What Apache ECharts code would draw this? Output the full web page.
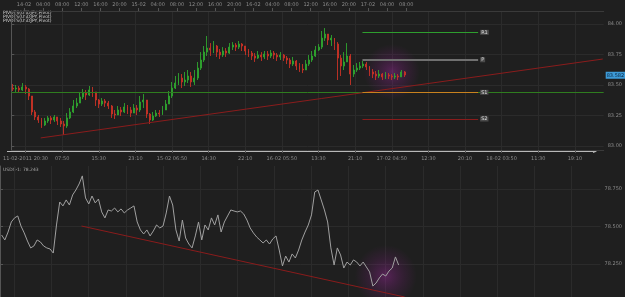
<!DOCTYPE html>
<html>
<head>
<meta charset="utf-8">
<script src="https://cdn.jsdelivr.net/npm/echarts@6/dist/echarts.min.js"></script>
<style>
html,body{margin:0;padding:0;background:#1f1f1f;}
#chart{width:625px;height:297px;}
</style>
</head>
<body>
<div id="chart"></div>
<script>
// bars: x is minutes from the left edge of the chart
var barStart = 20, barStep = 40;
var firstOpen = 83.475;

var closes = [83.467,83.475,83.459,83.484,83.467,83.410,83.279,83.238,83.213,83.172,
  83.205,83.230,83.213,83.238,83.205,83.180,83.164,83.230,83.279,83.328,
  83.352,83.402,83.434,83.418,83.459,83.443,83.377,83.344,83.369,83.352,
  83.328,83.262,83.254,83.295,83.279,83.320,83.295,83.270,83.311,83.295,
  83.361,83.377,83.262,83.213,83.246,83.270,83.262,83.295,83.344,83.410,
  83.475,83.516,83.557,83.525,83.541,83.574,83.525,83.557,83.639,83.705,
  83.770,83.803,83.787,83.820,83.770,83.746,83.779,83.762,83.811,83.828,
  83.811,83.836,83.820,83.779,83.762,83.738,83.721,83.746,83.730,83.754,
  83.738,83.762,83.746,83.730,83.746,83.721,83.705,83.672,83.697,83.656,
  83.631,83.623,83.672,83.705,83.738,83.787,83.811,83.885,83.918,83.869,
  83.885,83.836,83.721,83.656,83.689,83.738,83.590,83.623,83.639,83.656,
  83.672,83.648,83.607,83.590,83.574,83.590,83.566,83.582,83.574,83.566,
  83.574,83.566,83.607,83.582];

var highs = [83.508,83.500,83.492,83.516,83.500,83.475,83.410,83.295,83.254,83.230,
  83.230,83.246,83.246,83.254,83.238,83.230,83.205,83.270,83.311,83.377,
  83.393,83.443,83.467,83.459,83.492,83.484,83.443,83.385,83.393,83.385,
  83.369,83.336,83.295,83.328,83.320,83.352,83.336,83.320,83.344,83.336,
  83.410,83.426,83.377,83.270,83.279,83.295,83.295,83.328,83.377,83.451,
  83.525,83.574,83.598,83.590,83.607,83.623,83.607,83.623,83.689,83.770,
  83.820,83.902,83.844,83.861,83.828,83.795,83.811,83.803,83.844,83.852,
  83.844,83.861,83.844,83.820,83.795,83.779,83.762,83.779,83.770,83.779,
  83.779,83.787,83.779,83.762,83.770,83.754,83.738,83.721,83.730,83.705,
  83.680,83.672,83.705,83.746,83.779,83.820,83.836,83.943,83.967,83.918,
  83.910,83.885,83.852,83.746,83.770,83.844,83.754,83.664,83.680,83.689,
  83.697,83.689,83.656,83.631,83.615,83.623,83.598,83.607,83.598,83.590,
  83.598,83.590,83.623,83.615];

var lows = [83.451,83.443,83.434,83.451,83.426,83.377,83.254,83.213,83.189,83.148,
  83.164,83.189,83.180,83.197,83.172,83.156,83.090,83.148,83.221,83.270,
  83.311,83.352,83.385,83.377,83.410,83.402,83.328,83.311,83.328,83.320,
  83.303,83.230,83.221,83.254,83.246,83.270,83.262,83.238,83.270,83.254,
  83.279,83.311,83.230,83.180,83.205,83.238,83.238,83.254,83.295,83.344,
  83.393,83.467,83.500,83.475,83.492,83.516,83.484,83.500,83.541,83.623,
  83.689,83.738,83.738,83.762,83.730,83.713,83.730,83.730,83.754,83.787,
  83.779,83.795,83.779,83.746,83.730,83.705,83.689,83.713,83.697,83.713,
  83.705,83.721,83.713,83.697,83.705,83.697,83.672,83.639,83.656,83.623,
  83.607,83.598,83.623,83.656,83.689,83.730,83.779,83.795,83.861,83.828,
  83.820,83.787,83.541,83.574,83.623,83.689,83.500,83.566,83.607,83.623,
  83.639,83.623,83.574,83.557,83.541,83.557,83.541,83.549,83.549,83.541,
  83.549,83.541,83.566,83.566];

var usdx = [78.443,78.410,78.463,78.530,78.557,78.570,78.503,78.457,78.403,78.357,
  78.370,78.410,78.397,78.370,78.357,78.350,78.323,78.510,78.663,78.637,
  78.677,78.643,78.710,78.743,78.783,78.837,78.690,78.650,78.703,78.657,
  78.683,78.597,78.557,78.610,78.603,78.623,78.597,78.617,78.590,78.610,
  78.623,78.637,78.530,78.477,78.450,78.477,78.437,78.470,78.510,78.490,
  78.503,78.590,78.703,78.643,78.477,78.403,78.543,78.423,78.383,78.357,
  78.437,78.530,78.410,78.510,78.477,78.557,78.510,78.577,78.463,78.530,
  78.570,78.610,78.603,78.597,78.603,78.583,78.543,78.490,78.457,78.430,
  78.410,78.390,78.410,78.383,78.417,78.437,78.343,78.237,78.303,78.263,
  78.317,78.290,78.343,78.410,78.463,78.510,78.577,78.730,78.743,78.677,
  78.610,78.530,78.357,78.243,78.357,78.310,78.223,78.263,78.243,78.277,
  78.263,78.237,78.263,78.230,78.197,78.103,78.123,78.157,78.183,78.170,
  78.203,78.223,78.297,78.243];

// axes
var xMax = 7441;
var topLabels = ["14-02","04:00","08:00","12:00","16:00","20:00","15-02","04:00","08:00","12:00",
  "16:00","20:00","16-02","04:00","08:00","12:00","16:00","20:00","17-02","04:00","08:00"];
var topStart = 160, topStep = 240;
var timeLabels = ["11-02-2011 20:30","07:50","15:30","23:10","15-02 06:50","14:30","22:10","16-02 05:50",
  "13:30","21:10","17-02 04:50","12:30","20:10","18-02 03:50","11:30","19:10"];
var timeStart = 179, timeStep = 460;
var priceTicks = [83.00, 83.25, 83.50, 83.75, 84.00];
var usdxTicks = [78.25, 78.50, 78.75];

// pivot levels and drawn lines
var pivotNames = ["R1", "P", "S1", "S2"];
var pivotValues = [83.932, 83.707, 83.440, 83.221];
var pivotColors = ["#2e9e2e", "#707070", "#c8821e", "#8a1c1c"];
var pivotFrom = 4411, pivotTo = 5864;
var supportLine = 83.440;
var trendTop = [[370, 83.066], [7429, 83.713]];
var trendBottom = [[1010, 78.503], [5014, 78.030]];

var FONT = "DejaVu Sans";

function seq(start, step, n){
  var r = [];
  for (var i = 0; i < n; i++) r.push(start + step * i);
  return r;
}

var t = seq(barStart, barStep, closes.length);
var candles = [];
for (var i = 0; i < closes.length; i++) {
  var o = i == 0 ? firstOpen : closes[i - 1];
  candles.push([t[i], o, closes[i], lows[i], highs[i]]);
}
var usdxData = usdx.map(function(v, i){ return [t[i], v]; });

var topTicks = seq(topStart, topStep, topLabels.length);
var timeTicks = seq(timeStart, timeStep, timeLabels.length);

var lastClose = closes[closes.length - 1];
var lastUsdx = usdx[usdx.length - 1];
var glowIdx = 119;

var pivotLines = pivotNames.map(function(n, k){
  return [
    {coord: [pivotFrom, pivotValues[k]], lineStyle: {color: pivotColors[k], width: k == 1 ? 2 : 1, type: 'solid'}},
    {coord: [pivotTo, pivotValues[k]], name: n}
  ];
});

var glowColor = {
  type: 'radial', x: 0.5, y: 0.5, r: 0.5,
  colorStops: [
    {offset: 0, color: 'rgba(160,40,160,0.55)'},
    {offset: 0.6, color: 'rgba(120,30,120,0.25)'},
    {offset: 1, color: 'rgba(120,30,120,0)'}
  ]
};

var chart = echarts.init(document.getElementById('chart'));

var gridLine = {show: true, lineStyle: {color: '#2b2b2b', width: 1}};
var labelStyle = {fontSize: 5, color: '#8c8c8c', fontFamily: FONT};

chart.setOption({
  animation: false,
  backgroundColor: '#1f1f1f',
  grid: [
    {left: 0, right: 21, top: 11, height: 139},
    {left: 0, right: 21, top: 166, bottom: 0}
  ],
  xAxis: [
    {
      type: 'value', gridIndex: 0, min: 0, max: xMax, position: 'bottom',
      axisLine: {show: true, lineStyle: {color: '#3a3a3a'}},
      axisTick: {show: true, length: 3, customValues: timeTicks, lineStyle: {color: '#555'}},
      axisLabel: Object.assign({
        customValues: timeTicks, margin: 6,
        formatter: function(v){ return timeLabels[Math.round((v - timeStart) / timeStep)]; }
      }, labelStyle),
      splitLine: gridLine
    },
    {
      type: 'value', gridIndex: 0, min: 0, max: xMax, position: 'top',
      axisLine: {show: true, lineStyle: {color: '#3a3a3a'}},
      axisTick: {show: true, length: 3, customValues: topTicks, lineStyle: {color: '#555'}},
      axisLabel: Object.assign({
        customValues: topTicks, margin: 4,
        formatter: function(v){ return topLabels[Math.round((v - topStart) / topStep)]; }
      }, labelStyle),
      splitLine: {show: false}
    },
    {
      type: 'value', gridIndex: 1, min: 0, max: xMax,
      axisLine: {show: false},
      axisTick: {show: false, customValues: timeTicks},
      axisLabel: {show: false, customValues: timeTicks},
      splitLine: gridLine
    }
  ],
  yAxis: [
    {
      type: 'value', gridIndex: 0, position: 'right', min: 82.967, max: 84.107, scale: true,
      axisLine: {show: true, lineStyle: {color: '#555'}},
      axisTick: {show: true, length: 3, customValues: priceTicks, lineStyle: {color: '#555'}},
      axisLabel: Object.assign({
        customValues: priceTicks, margin: 4,
        formatter: function(v){ return v.toFixed(2); }
      }, labelStyle),
      splitLine: gridLine
    },
    {
      type: 'value', gridIndex: 1, position: 'right', min: 78.03, max: 78.903, scale: true,
      axisLine: {show: true, lineStyle: {color: '#555'}},
      axisTick: {show: true, length: 3, customValues: usdxTicks, lineStyle: {color: '#555'}},
      axisLabel: Object.assign({
        customValues: usdxTicks, margin: 4,
        formatter: function(v){ return v.toFixed(3); }
      }, labelStyle),
      splitLine: gridLine
    }
  ],
  series: [
    {
      type: 'scatter', xAxisIndex: 0, yAxisIndex: 0, silent: true,
      data: [[t[glowIdx], closes[glowIdx]]],
      symbolSize: 56, symbolOffset: [0, -5],
      itemStyle: {color: glowColor}, z: 1
    },
    {
      type: 'scatter', xAxisIndex: 2, yAxisIndex: 1, silent: true,
      data: [[t[glowIdx], usdx[glowIdx]]],
      symbolSize: 62,
      itemStyle: {color: glowColor}, z: 1
    },
    {
      type: 'candlestick', xAxisIndex: 0, yAxisIndex: 0,
      encode: {x: 0, y: [1, 2, 3, 4]},
      data: candles, barWidth: 1.4,
      itemStyle: {color: '#2fa52f', color0: '#c83226', borderColor: '#2fa52f', borderColor0: '#c83226', borderWidth: 0.9},
      z: 3,
      markLine: {
        silent: true, symbol: ['none', 'none'], animation: false,
        label: {show: true, position: 'end', fontSize: 5, color: '#ddd', fontFamily: FONT,
          backgroundColor: '#4a4a4a', padding: [0, 1], distance: 2, formatter: '{b}'},
        data: [
          {yAxis: supportLine, lineStyle: {color: '#2f7d1f', width: 1, type: 'solid'}, label: {show: false}},
          [{coord: trendTop[0], lineStyle: {color: '#8a1c1c', width: 1, type: 'solid'}, label: {show: false}},
           {coord: trendTop[1]}]
        ].concat(pivotLines)
      }
    },
    {
      // current price tag on the right axis
      type: 'line', xAxisIndex: 0, yAxisIndex: 0, silent: true,
      data: [], symbol: 'none',
      markLine: {
        silent: true, symbol: ['none', 'none'], animation: false,
        data: [{yAxis: lastClose, lineStyle: {color: 'transparent', width: 0},
          label: {show: true, position: 'end', distance: 2, formatter: lastClose.toFixed(3),
            backgroundColor: '#3d9ad6', color: '#08233f', fontSize: 5, fontFamily: FONT, padding: [1, 1]}}]
      }
    },
    {
      type: 'line', xAxisIndex: 2, yAxisIndex: 1,
      data: usdxData, symbol: 'none',
      lineStyle: {color: '#a0a0a0', width: 1}, z: 3,
      markLine: {
        silent: true, symbol: ['none', 'none'], animation: false, label: {show: false},
        data: [[{coord: trendBottom[0], lineStyle: {color: '#8a1c1c', width: 1, type: 'solid'}},
                {coord: trendBottom[1]}]]
      }
    }
  ],
  graphic: [
    {type: 'text', left: 3, top: 10,
      style: {text: 'PIVOTS(USDJPY,Pivot)\nPIVOTS(USDJPY,Pivot)\nPIVOTS(USDJPY,Pivot)',
        fill: '#d0d0d0', fontSize: 4.5, lineHeight: 4.4, fontFamily: FONT}},
    {type: 'text', left: 3, top: 167,
      style: {text: 'USDX-1: ' + lastUsdx.toFixed(3), fill: '#a8a8a8', fontSize: 4.5, fontFamily: FONT}},
    {type: 'line', shape: {x1: 7, y1: 151.5, x2: 595, y2: 151.5},
      style: {stroke: '#b8b8b8', lineWidth: 1}},
    {type: 'polygon', shape: {points: [[593, 150], [597, 151.5], [593, 153]]},
      style: {fill: '#b8b8b8'}}
  ]
});
</script>
</body>
</html>
